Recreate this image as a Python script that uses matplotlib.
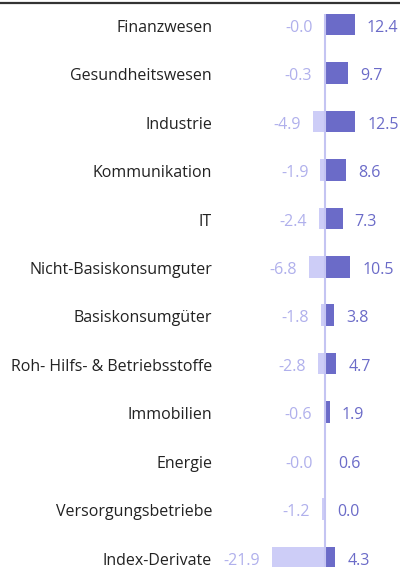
import matplotlib.pyplot as plt
from matplotlib.lines import Line2D

# ---------------------------
# Data
# ---------------------------
sectors = [
    "Finanzwesen", "Gesundheitswesen", "Industrie", "Kommunikation", "IT",
    "Nicht-Basiskonsumguter", "Basiskonsumgüter",
    "Roh- Hilfs- & Betriebsstoffe", "Immobilien", "Energie",
    "Versorgungsbetriebe", "Index-Derivate",
]
negative = [-0.0, -0.3, -4.9, -1.9, -2.4, -6.8, -1.8, -2.8, -0.6, -0.0, -1.2, -21.9]
positive = [12.4, 9.7, 12.5, 8.6, 7.3, 10.5, 3.8, 4.7, 1.9, 0.6, 0.0, 4.3]

neg_color = "#cdcdf7"
pos_color = "#6b6bc8"
neg_text = "#b0b0ec"
pos_text = "#6b6bc8"
line_color = "#c4c4f2"

plt.rcParams["font.family"] = ["Open Sans", "DejaVu Sans"]

fig = plt.figure(figsize=(4.0, 5.67), dpi=100)
ax = fig.add_axes([0, 0, 1, 1])

px = 2.42      # pixels per unit
row = 48.45    # pixels per row
top = 24.5     # centre of first row, pixels
ax.set_xlim(-325 / px, 75 / px)
ax.set_ylim((567 - top) / row, -top / row)
ax.axis("off")

ys = list(range(len(sectors)))
h = 21.5 / row
base = 7.2 / row   # baseline below row centre

ax.barh(ys, negative, height=h, color=neg_color, zorder=2)
ax.barh(ys, positive, height=h, color=pos_color, zorder=2)
ax.vlines(0, -h / 2, len(sectors) + 1, color=line_color, lw=1.5, zorder=3)

gap = 12 / px
fs = 11.5
for y, name, n, p in zip(ys, sectors, negative, positive):
    ax.text(212 / 400, y + base, name, transform=ax.get_yaxis_transform(),
            ha="right", va="baseline", fontsize=fs, color="#222222")
    ax.text(n - gap, y + base, "%.1f" % n if n != 0 else "-0.0", ha="right",
            va="baseline", fontsize=fs, color=neg_text)
    ax.text(p + gap, y + base, "%.1f" % p, ha="left", va="baseline",
            fontsize=fs, color=pos_text)

# top rule
fig.add_artist(Line2D([0, 1], [1 - 2.5 / 567, 1 - 2.5 / 567], color="#333333", lw=1.6,
                      transform=fig.transFigure))

fig.savefig("out.png", dpi=100)
